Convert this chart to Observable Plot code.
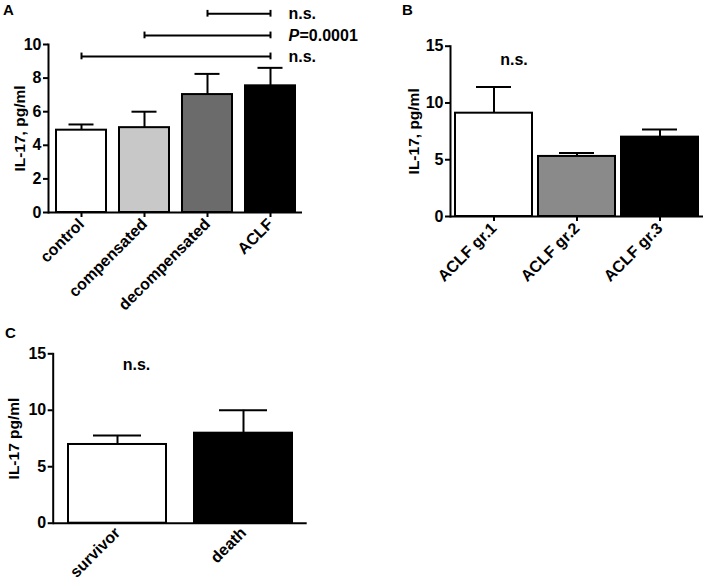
<!DOCTYPE html>
<html><head><meta charset="utf-8">
<script src="https://cdn.jsdelivr.net/npm/d3@7"></script>
<script src="https://cdn.jsdelivr.net/npm/@observablehq/plot@0.6"></script>
<style>
body{margin:0;background:#fff;}
#fig{position:relative;width:709px;height:586px;background:#fff;font-family:"Liberation Sans",Arial,sans-serif;}
.panel{position:absolute;}
.letter{position:absolute;font-size:15px;font-weight:bold;line-height:1;color:#000;}
</style></head><body>
<div id="fig"></div>
<script>
// Panel A
const groupsA = ["control", "compensated", "decompensated", "ACLF"];
const meanA = [4.9, 5.05, 7.02, 7.54];
const semA = [0.34, 0.95, 1.23, 1.07];
const fillA = ["#ffffff", "#c8c8c8", "#6b6b6b", "#000000"];
const ticksA = [0, 2, 4, 6, 8, 10];
const compFromA = ["decompensated", "compensated", "control"];
const compToA = ["ACLF", "ACLF", "ACLF"];
const compYA = [11.83, 10.54, 9.29];
const compLabelA = ["n.s.", "P=0.0001", "n.s."];

// Panel B
const groupsB = ["ACLF gr.1", "ACLF gr.2", "ACLF gr.3"];
const meanB = [9.1, 5.29, 6.99];
const semB = [2.3, 0.31, 0.68];
const fillB = ["#ffffff", "#8a8a8a", "#000000"];
const ticksB = [0, 5, 10, 15];
const noteB = ["n.s."];
const noteYB = [13.8];

// Panel C
const groupsC = ["survivor", "death"];
const meanC = [6.97, 7.97];
const semC = [0.8, 2.03];
const fillC = ["#ffffff", "#000000"];
const ticksC = [0, 5, 10, 15];
const noteC = ["n.s."];
const noteYC = [14.0];

const FS = 16;
const fontStyle = {fontFamily: "'Liberation Sans', Arial, sans-serif", fontSize: FS + "px", fontWeight: "bold", color: "#000", background: "transparent", overflow: "visible"};

function makePanel(cfg) {
  const data = cfg.groups.map((g, i) => ({cat: g, mean: cfg.means[i], top: cfg.means[i] + cfg.sems[i], fill: cfg.fills[i]}));
  const marks = [
    Plot.barY(data, {x: "cat", y: "mean", fill: "fill", stroke: "#000", strokeWidth: 2}),
    Plot.ruleX(data, {x: "cat", y1: "mean", y2: "top", stroke: "#000", strokeWidth: 2}),
    Plot.tickY(data, {x: "cat", y: "top", stroke: "#000", strokeWidth: 2, inset: cfg.capInset}),
    Plot.ruleY([0], {stroke: "#000", strokeWidth: 2}),
    Plot.frame({anchor: "left", stroke: "#000", strokeWidth: 2}),
    Plot.axisY({ticks: cfg.yTicks, tickSize: 5, tickPadding: 2, strokeWidth: 2, label: null, fontSize: FS}),
    Plot.axisY({ticks: [], tickSize: 0, label: cfg.yLabel, labelAnchor: "center", labelOffset: cfg.labelOffset, labelArrow: "none", fontSize: 15.5, dy: cfg.labelDy}),
    Plot.axisX({tickRotate: -45, tickSize: cfg.xTickSize, tickPadding: cfg.xTickPadding, strokeWidth: 2, label: null, fontSize: FS}),
    ...(cfg.extra ? cfg.extra(data) : [])
  ];
  const svg = Plot.plot({
    width: cfg.width, height: cfg.height,
    marginLeft: cfg.ml, marginRight: cfg.mr, marginTop: cfg.mt, marginBottom: cfg.mb,
    x: {domain: cfg.groups, paddingInner: cfg.padIn, paddingOuter: cfg.padOut, axis: null},
    y: {domain: [0, cfg.yTicks[cfg.yTicks.length - 1]], axis: null},
    color: {type: "identity"},
    style: fontStyle,
    marks
  });
  svg.classList.add("panel");
  svg.style.left = cfg.left + "px";
  svg.style.top = cfg.top + "px";
  return svg;
}

const fig = document.getElementById("fig");

// Panel A brackets
const brackets = compFromA.map((f, i) => {
  const lab = compLabelA[i];
  const ital = lab.startsWith("P=") ? "P" : "";
  return {from: f, to: compToA[i], y: compYA[i], ital, rest: ital ? lab.slice(1) : lab};
});

fig.appendChild(makePanel({
  groups: groupsA, means: meanA, sems: semA, fills: fillA, yTicks: ticksA,
  width: 370, height: 300, ml: 48, mr: 68, mt: 44, mb: 88, left: 0, top: 0,
  padIn: 0.21, padOut: 0.1, capInset: 12.5, xTickSize: 5, xTickPadding: 4,
  yLabel: "IL-17, pg/ml", labelOffset: 35, labelDy: -3,
  extra: () => [
    Plot.link(brackets, {x1: "from", x2: "to", y1: "y", y2: "y", stroke: "#000", strokeWidth: 2}),
    Plot.ruleX(brackets, {x: "from", y1: d => d.y - 0.2, y2: d => d.y + 0.2, stroke: "#000", strokeWidth: 2}),
    Plot.ruleX(brackets, {x: "to", y1: d => d.y - 0.2, y2: d => d.y + 0.2, stroke: "#000", strokeWidth: 2}),
    Plot.text(brackets.filter(d => d.ital), {x: "to", y: "y", text: "ital", dx: 18, textAnchor: "start", fontStyle: "italic", fontWeight: "bold", fontSize: FS}),
    Plot.text(brackets.filter(d => d.ital), {x: "to", y: "y", text: "rest", dx: 29, textAnchor: "start", fontWeight: "bold", fontSize: FS}),
    Plot.text(brackets.filter(d => !d.ital), {x: "to", y: "y", text: "rest", dx: 18, textAnchor: "start", fontWeight: "bold", fontSize: FS})
  ]
}));

fig.appendChild(makePanel({
  groups: groupsB, means: meanB, sems: semB, fills: fillB, yTicks: ticksB,
  width: 349, height: 300, ml: 90, mr: 6, mt: 45.7, mb: 84, left: 360, top: 0,
  padIn: 0.07, padOut: 0.05, capInset: 21, xTickSize: 5, xTickPadding: 4,
  yLabel: "IL-17, pg/ml", labelOffset: 43, labelDy: 6,
  extra: () => [
    Plot.text(noteB.map((t, i) => ({t, y: noteYB[i], cat: groupsB[0]})), {x: "cat", y: "y", text: "t", dx: 20, fontWeight: "bold", fontSize: FS})
  ]
}));

fig.appendChild(makePanel({
  groups: groupsC, means: meanC, sems: semC, fills: fillC, yTicks: ticksC,
  width: 340, height: 266, ml: 52.7, mr: 33.3, mt: 33.3, mb: 63.3, left: 0, top: 320,
  padIn: 0.226, padOut: 0.12, capInset: 25, xTickSize: 0, xTickPadding: 7,
  yLabel: "IL-17 pg/ml", labelOffset: 45, labelDy: 0,
  extra: () => [
    Plot.text(noteC.map((t, i) => ({t, y: noteYC[i], cat: groupsC[0]})), {x: "cat", y: "y", text: "t", dx: 19, fontWeight: "bold", fontSize: FS})
  ]
}));

[["A", 3, 2], ["B", 402, 2], ["C", 5, 325]].forEach(([t, x, y]) => {
  const d = document.createElement("div");
  d.className = "letter";
  d.textContent = t;
  d.style.left = x + "px";
  d.style.top = y + "px";
  fig.appendChild(d);
});
</script>
</body></html>
